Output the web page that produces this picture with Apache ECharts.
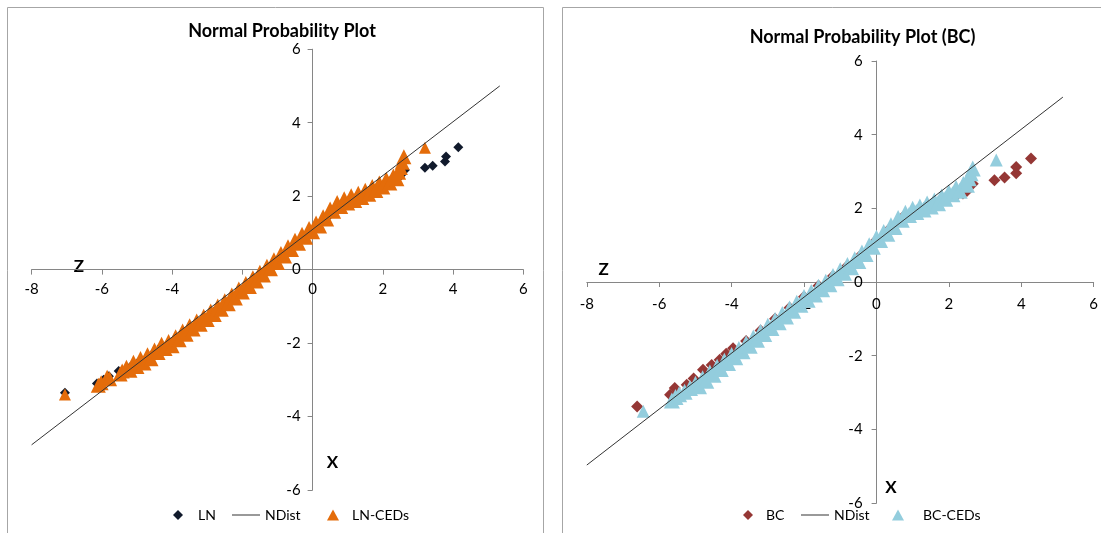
<!DOCTYPE html>
<html>
<head>
<meta charset="utf-8">
<title>Normal Probability Plot</title>
<script src="https://cdn.jsdelivr.net/npm/echarts@6/dist/echarts.min.js"></script>
<style>
  html, body { margin: 0; padding: 0; background: #fff; }
  #c1 { width: 1101px; height: 533px; }
</style>
</head>
<body>
<div id="c1"></div>
<script>
// axis ranges (same on both panels)
var xMin = -8, xMax = 6, yMin = -6, yMax = 6, tickStep = 2;

// left panel - LN
var lnPts = [
  [-7.05, -3.35], [-6.14, -3.10], [-5.95, -3.00], [-5.80, -2.90], [-5.52, -2.76],
  [-5.2, -2.66], [-4.9, -2.46], [-4.6, -2.34], [-4.3, -2.08], [-4.0, -1.98],
  [-3.6, -1.70], [-3.2, -1.42], [-2.8, -1.14], [-2.4, -0.87], [-2.0, -0.54],
  [-1.6, -0.26], [-1.2, 0.05], [-0.8, 0.38], [-0.4, 0.74], [0, 1.06],
  [0.4, 1.40], [0.8, 1.74], [1.2, 1.90], [1.6, 2.08], [2.0, 2.28],
  [2.35, 2.42], [2.45, 2.50], [2.55, 2.60], [2.63, 2.71], [3.20, 2.77],
  [3.42, 2.83], [3.77, 2.94], [3.80, 3.08], [4.15, 3.33]
];
var lnCedPts = [
  [-7.05, -3.40],
  [-6.10, -3.15], [-6.02, -3.08], [-5.85, -2.93], [-5.78, -2.97], [-5.48, -2.84], [-5.42, -2.76],
  [-5.30, -2.66], [-5.20, -2.74], [-5.10, -2.52], [-5.00, -2.64], [-4.90, -2.42], [-4.80, -2.54],
  [-4.70, -2.32], [-4.60, -2.43], [-4.50, -2.19], [-4.40, -2.26], [-4.30, -2.03], [-4.20, -2.15],
  [-4.10, -1.96], [-4.00, -2.07], [-3.90, -1.83], [-3.80, -1.91], [-3.70, -1.67], [-3.60, -1.76],
  [-3.50, -1.53], [-3.40, -1.62], [-3.30, -1.40], [-3.20, -1.49], [-3.10, -1.27], [-3.00, -1.36],
  [-2.90, -1.13], [-2.80, -1.22], [-2.70, -0.99], [-2.60, -1.08], [-2.50, -0.85], [-2.40, -0.93],
  [-2.30, -0.69], [-2.20, -0.77], [-2.10, -0.53], [-2.00, -0.61], [-1.90, -0.38], [-1.80, -0.46],
  [-1.70, -0.22], [-1.60, -0.31], [-1.50, -0.07], [-1.40, -0.15], [-1.30, 0.09], [-1.20, 0.02],
  [-1.10, 0.27], [-1.00, 0.19], [-0.90, 0.44], [-0.80, 0.37], [-0.70, 0.62], [-0.60, 0.55],
  [-0.50, 0.80], [-0.40, 0.72], [-0.30, 0.96], [-0.20, 0.88], [-0.10, 1.12], [0.00, 1.03],
  [0.10, 1.27], [0.20, 1.19], [0.30, 1.44], [0.40, 1.38], [0.50, 1.65], [0.60, 1.59],
  [0.70, 1.83], [0.80, 1.72], [0.90, 1.93], [1.00, 1.81], [1.10, 2.01], [1.20, 1.88],
  [1.30, 2.08], [1.40, 1.96], [1.50, 2.16], [1.60, 2.05], [1.70, 2.26], [1.80, 2.15],
  [1.90, 2.36], [2.00, 2.25], [2.10, 2.46], [2.20, 2.36], [2.30, 2.55], [2.40, 2.47],
  [2.45, 2.65], [2.50, 2.78], [2.55, 2.92], [2.60, 3.07],
  [3.20, 3.32]
];
var lnLine = [[-8, -4.77], [5.33, 5.0]];

// right panel - BC
var bcPts = [
  [-6.61, -3.38], [-5.70, -3.06], [-5.57, -2.88], [-5.24, -2.79], [-5.05, -2.62],
  [-4.79, -2.38], [-4.55, -2.25], [-4.33, -2.11], [-4.15, -1.95], [-3.96, -1.80],
  [-3.6, -1.60], [-3.2, -1.32], [-2.8, -1.00], [-2.4, -0.70], [-2.0, -0.40],
  [-1.6, -0.10], [-1.2, 0.16], [-0.8, 0.44], [-0.4, 0.76], [0, 1.14],
  [0.4, 1.48], [0.8, 1.83], [1.2, 2.00], [1.6, 2.14], [2.0, 2.32],
  [2.2, 2.35], [2.39, 2.40], [2.5, 2.47], [2.66, 2.67], [3.26, 2.76],
  [3.54, 2.84], [3.86, 2.95], [3.86, 3.12], [4.27, 3.35]
];
var bcCedPts = [
  [-6.44, -3.51],
  [-5.65, -3.22], [-5.55, -3.12], [-5.45, -3.05], [-5.30, -2.98], [-5.15, -2.88],
  [-5.00, -2.76], [-4.90, -2.83], [-4.80, -2.61], [-4.70, -2.68], [-4.60, -2.46], [-4.50, -2.52],
  [-4.40, -2.30], [-4.30, -2.36], [-4.20, -2.14], [-4.10, -2.20], [-4.00, -1.98], [-3.90, -2.04],
  [-3.80, -1.82], [-3.70, -1.88], [-3.60, -1.66], [-3.50, -1.73], [-3.40, -1.51], [-3.30, -1.57],
  [-3.20, -1.35], [-3.10, -1.41], [-3.00, -1.19], [-2.90, -1.25], [-2.80, -1.03], [-2.70, -1.09],
  [-2.60, -0.87], [-2.50, -0.94], [-2.40, -0.72], [-2.30, -0.78], [-2.20, -0.56], [-2.10, -0.62],
  [-2.00, -0.41], [-1.90, -0.48], [-1.80, -0.27], [-1.70, -0.34], [-1.60, -0.13], [-1.50, -0.20],
  [-1.40, 0.01], [-1.30, -0.06], [-1.20, 0.16], [-1.10, 0.10], [-1.00, 0.32], [-0.90, 0.25],
  [-0.80, 0.46], [-0.70, 0.40], [-0.60, 0.62], [-0.50, 0.57], [-0.40, 0.80], [-0.30, 0.76],
  [-0.20, 1.00], [-0.10, 0.96], [0.00, 1.20], [0.10, 1.14], [0.20, 1.36], [0.30, 1.31],
  [0.40, 1.54], [0.50, 1.49], [0.60, 1.74], [0.70, 1.69], [0.80, 1.88], [0.90, 1.82],
  [1.00, 1.99], [1.10, 1.90], [1.20, 2.05], [1.30, 1.97], [1.40, 2.13], [1.50, 2.05],
  [1.60, 2.21], [1.70, 2.14], [1.80, 2.32], [1.90, 2.26], [2.00, 2.44], [2.10, 2.38],
  [2.20, 2.55], [2.30, 2.48], [2.40, 2.66], [2.50, 2.64],
  [2.55, 2.82], [2.60, 2.95], [2.66, 3.08],
  [3.31, 3.31]
];
var bcLine = [[-8, -4.97], [5.15, 5.02]];

var font = "Lato, 'Open Sans', sans-serif";
var axisGrey = "#868686";

// axes are pushed onto the zero lines with offset (grid px)
function xAx(gi, off, margin) {
  return {
    type: "value", gridIndex: gi, min: xMin, max: xMax, interval: tickStep,
    position: "bottom", offset: off,
    axisLine: { onZero: false, lineStyle: { color: axisGrey } },
    axisTick: { length: 5, lineStyle: { color: axisGrey } },
    axisLabel: { margin: margin, color: "#000", fontFamily: font, fontSize: 15 },
    splitLine: { show: false }
  };
}
function yAx(gi, off, margin) {
  return {
    type: "value", gridIndex: gi, min: yMin, max: yMax, interval: tickStep,
    position: "left", offset: off,
    axisLine: { onZero: false, lineStyle: { color: axisGrey } },
    axisTick: { length: 5, lineStyle: { color: axisGrey } },
    axisLabel: { margin: margin, color: "#000", fontFamily: font, fontSize: 15 },
    splitLine: { show: false }
  };
}
function txt(x, y, s, size, bold) {
  return {
    type: "text", x: x, y: y, silent: true,
    style: { text: s, fill: "#000", font: (bold ? "bold " : "") + size + "px " + font, align: "center", verticalAlign: "middle" }
  };
}
function leg(item, left, w, h, pad) {
  return {
    data: [item], left: left, top: 503, itemWidth: w, itemHeight: h,
    textStyle: { fontFamily: font, fontSize: 14, color: "#000", padding: [0, 0, 0, pad] }
  };
}
// lone end markers are drawn a bit smaller than the dense band
function bandSize(n, small, big) {
  return function (val, params) {
    return params.dataIndex === 0 || params.dataIndex === n - 1 ? small : big;
  };
}

var chartDom = document.getElementById("c1");
var myChart = echarts.init(chartDom);
var option;

option = {
  animation: false,
  backgroundColor: "#fff",
  grid: [
    { left: 31.6, top: 49.2, width: 491.7, height: 440.8 },
    { left: 586.8, top: 61, width: 507.2, height: 442 }
  ],
  xAxis: [xAx(0, -220.4, 12), xAx(1, -221, 15)],
  yAxis: [yAx(0, -281, 12), yAx(1, -289.8, 14)],
  legend: [
    leg("LN", 168, 10, 10, 10),
    leg({ name: "NDist", icon: "rect" }, 227, 28, 1, 0),
    leg("LN-CEDs", 322, 12, 11, 8),
    leg("BC", 738, 10, 10, 8),
    leg({ name: "NDist", icon: "rect" }, 796, 28, 1, 0),
    leg("BC-CEDs", 887, 12, 11, 14)
  ],
  graphic: [
    { type: "rect", silent: true, z: -10, shape: { x: 7.5, y: 7.5, width: 536, height: 600 }, style: { fill: "none", stroke: "#a6a6a6", lineWidth: 1 } },
    { type: "rect", silent: true, z: -10, shape: { x: 562.5, y: 7.5, width: 600, height: 600 }, style: { fill: "none", stroke: "#a6a6a6", lineWidth: 1 } },
    txt(282, 31, "Normal Probability Plot", 18, true),
    txt(862.5, 37.5, "Normal Probability Plot (BC)", 18, true),
    txt(79, 267, "Z", 17, true),
    txt(332.5, 463, "X", 17, true),
    txt(603.7, 270, "Z", 17, true),
    txt(891, 487.6, "X", 17, true)
  ],
  series: [
    {
      name: "LN", type: "scatter", xAxisIndex: 0, yAxisIndex: 0,
      symbol: "diamond", symbolSize: 10, data: lnPts,
      itemStyle: { color: "#111a2c", opacity: 1 }
    },
    {
      name: "NDist", type: "line", xAxisIndex: 0, yAxisIndex: 0,
      symbol: "none", data: lnLine,
      lineStyle: { color: "#333", width: 1 }, itemStyle: { color: "#333" }
    },
    {
      name: "LN-CEDs", type: "scatter", xAxisIndex: 0, yAxisIndex: 0,
      symbol: "triangle", symbolSize: bandSize(lnCedPts.length, 12, 15), data: lnCedPts,
      itemStyle: { color: "#E46C0A", opacity: 1 }
    },
    {
      name: "BC", type: "scatter", xAxisIndex: 1, yAxisIndex: 1,
      symbol: "diamond", symbolSize: 12, data: bcPts,
      itemStyle: { color: "#953735", opacity: 1 }
    },
    {
      name: "NDist", type: "line", xAxisIndex: 1, yAxisIndex: 1,
      symbol: "none", data: bcLine,
      lineStyle: { color: "#333", width: 1 }, itemStyle: { color: "#333" }
    },
    {
      name: "BC-CEDs", type: "scatter", xAxisIndex: 1, yAxisIndex: 1,
      symbol: "triangle", symbolSize: bandSize(bcCedPts.length, 13, 16), data: bcCedPts,
      itemStyle: { color: "#93CDDD", opacity: 1 }
    }
  ]
};
myChart.setOption(option);
window.addEventListener("resize", function () {
  myChart.resize();
});
</script>
</body>
</html>
